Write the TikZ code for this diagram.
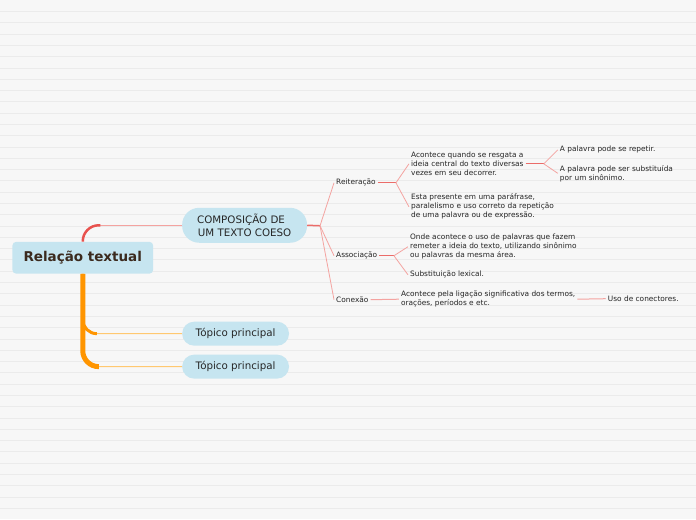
\documentclass[tikz,border=0pt]{standalone}
\usepackage{fontspec}
\setmainfont{DejaVu Sans}
\usetikzlibrary{positioning}
\definecolor{mmbg}{HTML}{F7F7F7}
\definecolor{mmrule}{HTML}{EBEBEB}
\definecolor{mmblue}{HTML}{C6E5F0}
\definecolor{mmbrown}{HTML}{3B2A1E}
\definecolor{mmred}{HTML}{E8524E}
\definecolor{mmpink}{HTML}{F4A3A0}
\definecolor{mmorange}{HTML}{FF9500}
\definecolor{mmlightor}{HTML}{FFC870}

\begin{document}
\begin{tikzpicture}[x=1pt, y=-1pt,
    root/.style={fill=mmblue, rounded corners=4pt, text=mmbrown, font=\fontsize{13.5}{15}\selectfont\bfseries, minimum width=141pt, minimum height=32pt},
    topic/.style={fill=mmblue, rounded corners=12pt, text=black!85, font=\fontsize{10.3}{13}\selectfont, minimum width=107pt, minimum height=24pt},
    sub/.style={anchor=west, inner sep=2pt, text=black!85, font=\fontsize{7.4}{9}\selectfont},
    leaf/.style={sub, align=left},
    rl/.style={draw=mmpink, line width=0.8pt},
    rk/.style={draw=mmred!85, line width=1.5pt}]
    % background
    \fill[mmbg] (0,0) rectangle (696,520);
    \foreach \i in {0,...,44}
      \draw[mmrule, line width=0.7pt] (0,11.5+11.3*\i) -- (696,11.5+11.3*\i);
    \useasboundingbox (0,0) rectangle (696,520);

    \node[root] (root) at (82.5,258) {Relação textual};
    \node[topic, minimum width=125pt, minimum height=35pt, rounded corners=17pt, align=center] (comp) at (244.5,225.5) {COMPOSIÇÃO DE\hspace*{0.7em}\\UM TEXTO COESO};
    \node[topic] (t1) at (235.5,334) {Tópico principal};
    \node[topic] (t2) at (235.5,367) {Tópico principal};

    \node[sub] (rei) at (334,183) {Reiteração};
    \node[sub] (asc) at (334,256) {Associação};
    \node[sub] (con) at (334,300) {Conexão};
    \node[leaf] (r1) at (409,164) {Acontece quando se resgata a\\ideia central do texto diversas\\vezes em seu decorrer.};
    \node[leaf] (r2) at (409,207) {Esta presente em uma paráfrase,\\paralelismo e uso correto da repetição\\de uma palavra ou de expressão.};
    \node[leaf] (p1) at (558,150) {A palavra pode se repetir.};
    \node[leaf] (p2) at (558,173.5) {A palavra pode ser substituída\\por um sinônimo.};
    \node[leaf] (a1) at (408,247) {Onde acontece o uso de palavras que fazem\\remeter a ideia do texto, utilizando sinônimo\\ou palavras da mesma área.};
    \node[leaf] (a2) at (408,275) {Substituição lexical.};
    \node[leaf] (c1) at (399,299.5) {Acontece pela ligação significativa dos termos,\\orações, períodos e etc.};
    \node[leaf] (c2) at (606,299) {Uso de conectores.};

    \coordinate (rc) at (100,225.5);
    \coordinate (oj1) at (96,334);
    \coordinate (oj2) at (98,367);
    \coordinate (cj) at (320,226);
    \coordinate (rj) at (396,183);
    \coordinate (pj) at (544,164);
    \coordinate (aj) at (394,256);

    % root branches
    \draw[rl] (rc) -- (comp.west);
    \draw[draw=mmred, line width=2.5pt, rounded corners=16pt] (root.north) |- (rc);
    \draw[mmlightor, line width=1pt, rounded corners=16pt] (root.south) |- (t1.west);
    \draw[mmlightor, line width=1pt, rounded corners=16pt] (root.south) |- (t2.west);
    \draw[mmorange, line width=5pt, rounded corners=16pt] (root.south) |- (oj2);
    \draw[mmorange, line width=3pt, rounded corners=14pt] (root.south) |- (oj1);

    % composicao branches
    \draw[rk] (comp.east) -- (cj);
    \draw[rl] (cj) -- (rei.west);
    \draw[rl] (cj) -- (asc.west);
    \draw[rl] (cj) -- (con.west);
    \draw[rk, line width=1.2pt] (rei.east) -- (rj);
    \draw[rl] (rj) -- (r1.west);
    \draw[rl] (rj) -- (r2.west);
    \draw[rk, line width=1.2pt] (r1.east) -- (pj);
    \draw[rl] (pj) -- (p1.west);
    \draw[rl] (pj) -- (p2.west);
    \draw[rk, line width=1.2pt] (asc.east) -- (aj);
    \draw[rl] (aj) -- (a1.west);
    \draw[rl] (aj) -- (a2.west);
    \draw[rl, line width=1pt] (con.east) -- (c1.west);
    \draw[rl, line width=1pt] (c1.east) -- (c2.west);
  \end{tikzpicture}
\end{document}
